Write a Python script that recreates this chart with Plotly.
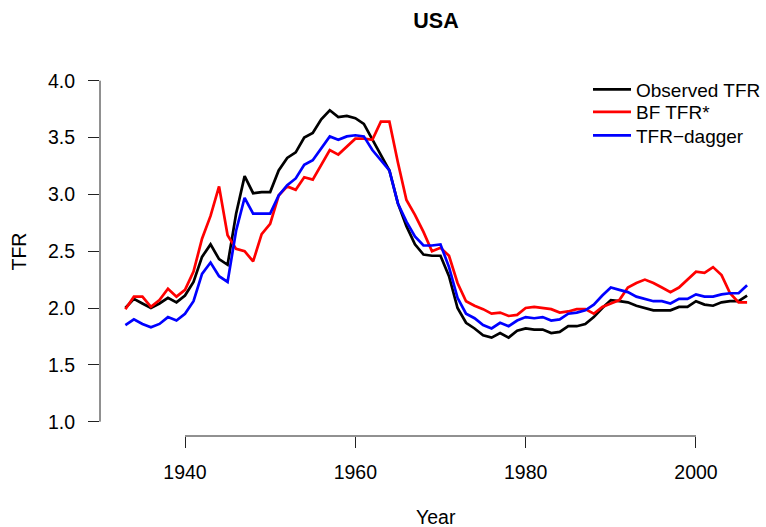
import plotly.graph_objects as go

years = list(range(1933, 2007))

observed_tfr = [2.00, 2.08, 2.04, 2.00, 2.04, 2.09, 2.05, 2.11, 2.23, 2.45,
                2.56, 2.43, 2.38, 2.83, 3.16, 3.01, 3.02, 3.02, 3.21, 3.32,
                3.37, 3.50, 3.54, 3.66, 3.74, 3.68, 3.69, 3.67, 3.62, 3.48,
                3.35, 3.21, 2.92, 2.72, 2.56, 2.47, 2.46, 2.46, 2.28, 2.00,
                1.87, 1.82, 1.76, 1.74, 1.78, 1.74, 1.80, 1.82, 1.81, 1.81,
                1.78, 1.79, 1.84, 1.84, 1.86, 1.92, 2.00, 2.07, 2.06, 2.05,
                2.02, 2.00, 1.98, 1.98, 1.98, 2.01, 2.01, 2.06, 2.03, 2.02,
                2.05, 2.06, 2.06, 2.11]

bf_tfr = [1.99, 2.10, 2.10, 2.01, 2.07, 2.17, 2.10, 2.16, 2.32, 2.61,
          2.81, 3.07, 2.64, 2.52, 2.50, 2.41, 2.65, 2.74, 2.99, 3.07,
          3.04, 3.15, 3.13, 3.26, 3.39, 3.35, 3.42, 3.49, 3.49, 3.48,
          3.64, 3.64, 3.28, 2.95, 2.82, 2.67, 2.50, 2.53, 2.46, 2.22,
          2.06, 2.02, 1.99, 1.95, 1.96, 1.93, 1.94, 2.00, 2.01, 2.00,
          1.99, 1.96, 1.97, 1.99, 1.99, 1.95, 2.01, 2.04, 2.07, 2.18,
          2.22, 2.25, 2.22, 2.18, 2.14, 2.18, 2.25, 2.32, 2.31, 2.36,
          2.29, 2.13, 2.05, 2.05]

tfr_dagger = [1.85, 1.90, 1.86, 1.83, 1.86, 1.92, 1.89, 1.95, 2.06, 2.30,
              2.40, 2.28, 2.23, 2.68, 2.97, 2.83, 2.83, 2.83, 2.99, 3.08,
              3.14, 3.26, 3.30, 3.40, 3.51, 3.48, 3.51, 3.52, 3.51, 3.39,
              3.30, 3.21, 2.92, 2.76, 2.63, 2.55, 2.55, 2.56, 2.36, 2.09,
              1.95, 1.91, 1.85, 1.82, 1.87, 1.84, 1.89, 1.92, 1.91, 1.92,
              1.89, 1.90, 1.95, 1.96, 1.98, 2.03, 2.11, 2.18, 2.16, 2.14,
              2.10, 2.08, 2.06, 2.06, 2.04, 2.08, 2.08, 2.12, 2.10, 2.10,
              2.12, 2.13, 2.13, 2.20]

x_ticks = [1940, 1960, 1980, 2000]
y_ticks = [1.0, 1.5, 2.0, 2.5, 3.0, 3.5, 4.0]
y_tick_labels = ["1.0", "1.5", "2.0", "2.5", "3.0", "3.5", "4.0"]

FONT = "Liberation Sans, Arial, Helvetica, sans-serif"
W, H = 766, 527

series = [("Observed TFR", observed_tfr, "black", "legend", 70.5),
          ("BF TFR*", bf_tfr, "#ff0000", "legend2", 93.1),
          ("TFR\u2212dagger", tfr_dagger, "#0000ff", "legend3", 116.5)]

fig = go.Figure()
legends = {}
for name, vals, col, leg, top in series:
    fig.add_trace(go.Scatter(x=years, y=vals, mode="lines", name=name, legend=leg,
                             line=dict(color=col, width=2.7)))
    legends[leg] = dict(x=588 / W, xref="container", xanchor="left",
                        y=1 - top / H, yref="container", yanchor="top",
                        bgcolor="rgba(0,0,0,0)", itemwidth=38,
                        font=dict(size=19, family=FONT))

# R-style detached axes lines
fig.add_shape(type="line", xref="x", yref="paper", x0=x_ticks[0], x1=x_ticks[-1],
              y0=0, y1=0, line=dict(color="#222", width=1))
fig.add_shape(type="line", xref="paper", yref="y", x0=0, x1=0,
              y0=y_ticks[0], y1=y_ticks[-1], line=dict(color="#222", width=1))

fig.update_layout(
    width=W, height=H,
    margin=dict(l=100, r=0, t=67, b=91, autoexpand=False),
    plot_bgcolor="white", paper_bgcolor="white",
    font=dict(family=FONT, size=19.5, color="black"),
    title=dict(text="<b>USA</b>", x=436 / W, xanchor="center", xref="container",
               y=1 - 20 / H, yanchor="middle", yref="container",
               font=dict(size=21.5, family=FONT)),
    xaxis=dict(range=[1930.02, 2008.22], tickvals=x_ticks, ticktext=[str(v) for v in x_ticks],
               ticks="outside", ticklen=11, tickwidth=1, tickcolor="#222",
               showgrid=False, zeroline=False, showline=False,
               ticklabelstandoff=8, automargin=False),
    yaxis=dict(range=[0.874, 4.1205], tickvals=y_ticks, ticktext=y_tick_labels,
               ticks="outside", ticklen=11, tickwidth=1, tickcolor="#222",
               showgrid=False, zeroline=False, showline=False,
               ticklabelstandoff=9, automargin=False),
    showlegend=True,
    annotations=[
        dict(text="Year", xref="paper", yref="paper", x=(436 - 100) / (W - 100),
             y=-(517 - 436) / (H - 67 - 91), xanchor="center", yanchor="middle",
             showarrow=False, font=dict(size=19.5)),
        dict(text="TFR", xref="paper", yref="paper", x=-(100 - 18) / (W - 100),
             y=0.5, xanchor="center", yanchor="middle", textangle=-90,
             showarrow=False, font=dict(size=19.5)),
    ],
    **legends,
)

fig.write_html("out.html", config={"displayModeBar": False},
               post_script="document.body.style.margin='0';")
